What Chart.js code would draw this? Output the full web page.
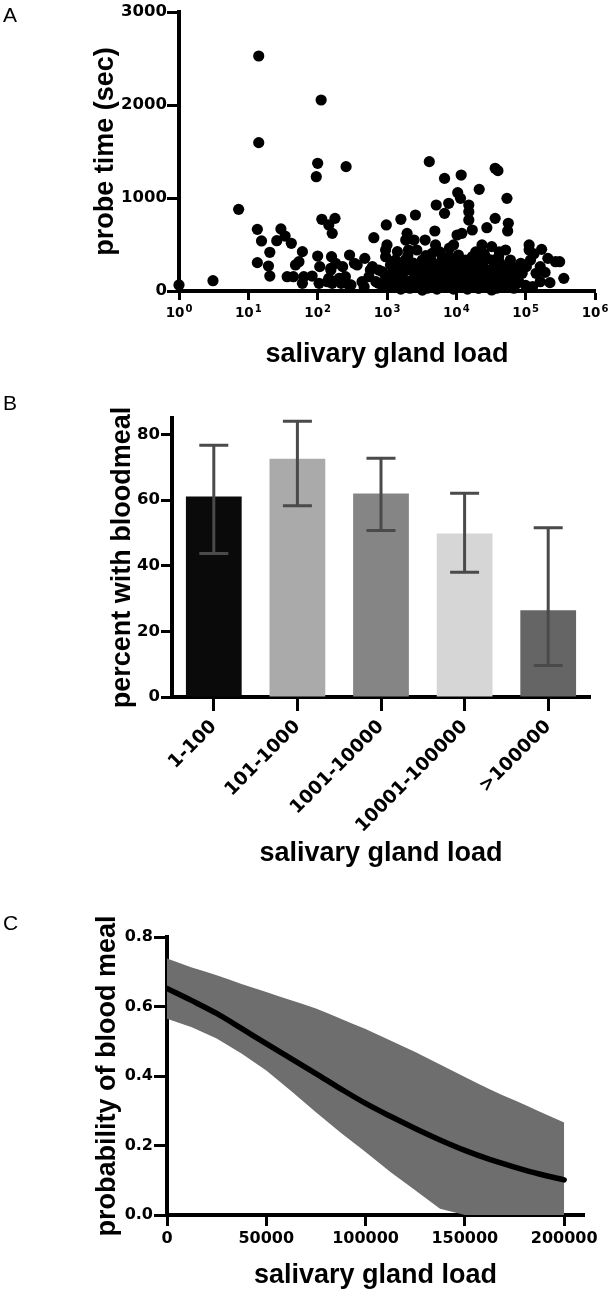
<!DOCTYPE html>
<html>
<head>
<meta charset="utf-8">
<script src="https://cdn.jsdelivr.net/npm/chart.js@4.4.1/dist/chart.umd.min.js"></script>
<style>
  html, body { margin: 0; padding: 0; background: #fff; }
  #page { position: relative; width: 613px; height: 1292px; overflow: hidden; }
  canvas { position: absolute; left: 0; }
  .panel { position: absolute; left: 3px; font: 21px "Liberation Sans", Arial, sans-serif; line-height: 21px; color: #000; }
</style>
</head>
<body>
<div id="page">
  <canvas id="chartA" width="613" height="380" style="top:0px"></canvas>
  <canvas id="chartB" width="613" height="490" style="top:380px"></canvas>
  <canvas id="chartC" width="613" height="392" style="top:900px"></canvas>
  <div class="panel" style="top:4px">A</div>
  <div class="panel" style="top:392px">B</div>
  <div class="panel" style="top:912px">C</div>
</div>
<script>
// Panel A: salivary gland load (log10 of load) vs probe time (sec)
const loadExp = [
  0.00, 0.49, 0.86, 1.15, 1.15, 1.13, 1.19, 1.31, 1.13, 1.29,
  1.31, 1.41, 1.47, 1.53, 1.62, 1.78, 1.73, 1.68, 1.56, 1.65,
  1.80, 1.78, 1.92, 2.00, 2.03, 1.98, 2.00, 2.05, 2.06, 2.16,
  2.21, 2.20, 2.19, 2.02, 2.14, 2.21, 2.25, 2.41, 2.46, 2.68,
  2.57, 2.79, 2.88, 2.36, 2.26, 2.19, 2.40, 2.31, 2.16, 2.45,
  2.64, 2.74, 2.88, 2.81, 2.99, 3.20, 3.41, 3.00, 2.98, 2.98,
  3.12, 3.15, 3.27, 3.39, 3.31, 3.43, 3.55, 3.70, 3.29, 3.69,
  3.61, 3.83, 4.07, 4.56, 4.60, 4.33, 4.02, 4.06, 4.73, 3.71,
  3.89, 3.83, 4.18, 4.18, 4.56, 4.18, 4.44, 4.75, 4.74, 4.08,
  4.23, 4.01, 3.96, 4.37, 4.51, 4.71, 3.00, 3.07, 3.22, 3.29,
  3.41, 3.51, 3.65, 3.58, 3.70, 3.79, 3.89, 4.03, 4.13, 4.23,
  4.32, 4.42, 4.51, 4.61, 4.78, 3.46, 3.55, 3.51, 3.36, 3.65,
  3.75, 3.84, 3.94, 4.01, 4.08, 4.18, 4.27, 4.37, 4.47, 4.56,
  4.66, 4.73, 4.80, 3.70, 3.82, 3.94, 4.13, 4.32, 4.51, 3.22,
  3.10, 5.05, 5.05, 5.23, 5.07, 5.01, 4.95, 5.15, 5.21, 5.32,
  5.43, 5.49, 5.55, 5.21, 5.10, 4.87, 4.81, 4.93, 2.53, 2.76,
  2.93, 2.98, 2.84, 2.67, 2.48, 2.34, 3.05, 3.18, 3.25, 3.33,
  3.40, 3.48, 3.60, 3.62, 3.68, 3.78, 3.86, 3.90, 3.98, 4.05,
  4.10, 4.15, 4.20, 4.25, 4.30, 4.35, 4.40, 4.45, 4.50, 4.55,
  4.60, 4.64, 4.70, 4.75, 4.85, 4.90, 3.56, 3.76, 3.90, 4.05,
  4.28, 4.62, 4.40, 3.30, 3.10, 2.95, 5.00, 5.12, 5.28, 5.35,
  3.02, 3.08, 3.14, 3.20, 3.26, 3.34, 3.38, 3.44, 3.50, 3.53,
  3.58, 3.63, 3.67, 3.72, 3.80, 3.85, 3.92, 3.96, 4.00, 4.04,
  4.11, 4.16, 4.22, 4.26, 4.33, 4.38, 4.43, 4.48, 4.53, 4.58,
  4.63, 4.68, 4.72, 4.83, 4.88
];
const probeTime = [
  65, 111, 878, 2527, 1595, 663, 538, 416, 305, 269,
  161, 541, 667, 591, 513, 423, 315, 280, 154, 154,
  154, 82, 161, 376, 262, 1229, 1373, 2054, 771, 710,
  620, 369, 244, 82, 100, 82, 781, 1337, 387, 351,
  280, 262, 226, 262, 297, 226, 154, 136, 136, 65,
  100, 154, 82, 573, 710, 771, 817, 495, 441, 369,
  333, 423, 548, 548, 441, 441, 548, 495, 620, 645,
  1391, 1211, 1247, 1319, 1294, 1093, 1057, 996, 996, 925,
  943, 835, 925, 853, 781, 763, 681, 728, 645, 620,
  656, 602, 495, 495, 477, 441, 100, 190, 154, 226,
  262, 333, 405, 262, 280, 333, 369, 387, 333, 369,
  333, 369, 333, 369, 333, 154, 100, 10, 65, 154,
  208, 154, 226, 136, 190, 118, 190, 100, 172, 100,
  154, 82, 190, 82, 47, 65, 47, 29, 11, 65,
  47, 495, 441, 448, 333, 262, 190, 190, 262, 351,
  315, 315, 136, 100, 47, 82, 172, 298, 298, 226,
  208, 154, 100, 47, 65, 82, 280, 250, 120, 30,
  180, 230, 200, 60, 130, 110, 280, 100, 300, 250,
  90, 280, 220, 60, 260, 160, 240, 50, 230, 290,
  60, 240, 200, 120, 250, 100, 380, 420, 460, 300,
  420, 420, 400, 380, 130, 40, 60, 400, 200, 90,
  60, 310, 210, 20, 330, 110, 300, 80, 170, 280,
  30, 330, 230, 20, 250, 40, 180, 20, 330, 40,
  150, 20, 310, 130, 80, 300, 130, 40, 180, 30,
  300, 60, 260, 30, 190
];
const logTicks = [1, 10, 100, 1000, 10000, 100000, 1000000];
const timeTicks = [0, 1000, 2000, 3000];

// Panel B: percent with bloodmeal per load bin, with error bar limits
const binLabels = ['1-100', '101-1000', '1001-10000', '10001-100000', '>100000'];
const bloodPct = [61.1, 72.6, 62.0, 49.8, 26.4];
const bloodUpper = [76.7, 84.0, 72.7, 62.1, 51.6];
const bloodLower = [43.7, 58.3, 50.7, 38.0, 9.6];
const binColors = ['#0a0a0a', '#aaaaaa', '#858585', '#d6d6d6', '#656565'];
const pctTicks = [0, 20, 40, 60, 80];

// Panel C: fitted probability of blood meal with confidence band
const loadC = [0, 12500, 25000, 37500, 50000, 62500, 75000, 87500, 100000,
  112500, 125000, 137500, 150000, 162500, 175000, 187500, 200000];
const probFit = [0.652, 0.617, 0.580, 0.537, 0.493, 0.450, 0.407, 0.363, 0.321,
  0.284, 0.249, 0.216, 0.186, 0.160, 0.138, 0.118, 0.101];
const probUpper = [0.738, 0.712, 0.690, 0.665, 0.642, 0.618, 0.594, 0.565, 0.535,
  0.502, 0.469, 0.433, 0.397, 0.362, 0.330, 0.298, 0.266];
const probLower = [0.565, 0.540, 0.508, 0.465, 0.416, 0.357, 0.296, 0.237, 0.181,
  0.124, 0.071, 0.018, 0, 0, 0, 0, 0];
const probTicks = [0, 0.2, 0.4, 0.6, 0.8];
const loadTicks = [0, 50000, 100000, 150000, 200000];

Chart.defaults.font.family = '"Liberation Sans", Arial, Helvetica, sans-serif';
Chart.defaults.color = '#000';

const TICK_FAMILY = '"DejaVu Sans", sans-serif';
const titleFont = { size: 27, weight: 'bold', lineHeight: 1.2 };

function axisLook(tickLen) {
  return {
    border: { display: true, color: '#000', width: 4 },
    grid: { display: true, drawOnChartArea: false, drawTicks: true,
            tickLength: tickLen, tickWidth: 3, tickColor: '#000', offset: false }
  };
}

// 10^n labels with a raised exponent, drawn under the log axis ticks
const expLabels = {
  id: 'expLabels',
  afterDraw(chart) {
    const ctx = chart.ctx, xs = chart.scales.x;
    ctx.save();
    ctx.fillStyle = '#000';
    ctx.textBaseline = 'alphabetic';
    ctx.textAlign = 'left';
    logTicks.forEach(v => {
      const n = String(Math.round(Math.log10(v)));
      const px = xs.getPixelForValue(v);
      ctx.font = 'bold 13.5px ' + TICK_FAMILY;
      const w1 = ctx.measureText('10').width;
      ctx.font = 'bold 10px ' + TICK_FAMILY;
      const w2 = ctx.measureText(n).width;
      const left = px - (w1 + w2 + 1) / 2;
      ctx.font = 'bold 13.5px ' + TICK_FAMILY;
      ctx.fillText('10', left, xs.top + 26);
      ctx.font = 'bold 10px ' + TICK_FAMILY;
      ctx.fillText(n, left + w1 + 1, xs.top + 21);
    });
    ctx.restore();
  }
};

// Chart A
new Chart(document.getElementById('chartA'), {
  type: 'scatter',
  data: {
    datasets: [{
      data: loadExp.map((e, i) => ({ x: Math.pow(10, e), y: probeTime[i] })),
      backgroundColor: '#000',
      borderWidth: 0,
      pointRadius: 5.6,
      clip: false
    }]
  },
  options: {
    responsive: false,
    animation: false,
    layout: { padding: { top: 12, right: 18, bottom: 0, left: 0 } },
    plugins: { legend: { display: false }, tooltip: { enabled: false } },
    scales: {
      x: {
        type: 'logarithmic', min: 1, max: 1000000,
        ...axisLook(9),
        afterBuildTicks: s => { s.ticks = logTicks.map(v => ({ value: v })); },
        afterFit: s => { s.height = 89; },
        ticks: { display: false },
        title: { display: true, text: 'salivary gland load', font: titleFont, padding: { top: 0, bottom: 9 } }
      },
      y: {
        min: 0, max: 3000,
        ...axisLook(12),
        afterBuildTicks: s => { s.ticks = timeTicks.map(v => ({ value: v })); },
        afterFit: s => { s.width = 179; },
        ticks: { font: { family: TICK_FAMILY, size: 16.5, weight: 'bold' }, padding: 0, callback: v => String(v) },
        title: { display: true, text: 'probe time (sec)', font: titleFont, padding: { top: 89, bottom: 0 } }
      }
    }
  },
  plugins: [expLabels]
});

// error bars for panel B
const errorBars = {
  id: 'errorBars',
  afterDatasetsDraw(chart) {
    const ctx = chart.ctx;
    const xs = chart.scales.x, ys = chart.scales.y;
    ctx.save();
    ctx.strokeStyle = '#4a4a4a';
    ctx.lineWidth = 3;
    binLabels.forEach((lab, i) => {
      const cx = xs.getPixelForValue(i);
      const top = ys.getPixelForValue(bloodUpper[i]);
      const bot = ys.getPixelForValue(bloodLower[i]);
      ctx.beginPath();
      ctx.moveTo(cx, top); ctx.lineTo(cx, bot);
      ctx.moveTo(cx - 14.5, top); ctx.lineTo(cx + 14.5, top);
      ctx.moveTo(cx - 14.5, bot); ctx.lineTo(cx + 14.5, bot);
      ctx.stroke();
    });
    ctx.restore();
  }
};

// Chart B
new Chart(document.getElementById('chartB'), {
  type: 'bar',
  data: {
    labels: binLabels,
    datasets: [{
      data: bloodPct,
      backgroundColor: binColors,
      borderWidth: 0,
      barPercentage: 0.667,
      categoryPercentage: 1
    }]
  },
  options: {
    responsive: false,
    animation: false,
    layout: { padding: { top: 38, right: 23, bottom: 0, left: 0 } },
    plugins: { legend: { display: false }, tooltip: { enabled: false } },
    scales: {
      x: {
        ...axisLook(14),
        afterFit: s => { s.height = 173; },
        ticks: { font: { family: TICK_FAMILY, size: 18.5, weight: 'bold' }, padding: 5,
                 autoSkip: false, minRotation: 45, maxRotation: 45 },
        title: { display: true, text: 'salivary gland load', font: titleFont, padding: { top: 0, bottom: 0 } }
      },
      y: {
        min: 0, max: 85,
        ...axisLook(11),
        afterBuildTicks: s => { s.ticks = pctTicks.map(v => ({ value: v })); },
        afterFit: s => { s.width = 172; },
        ticks: { font: { family: TICK_FAMILY, size: 16.5, weight: 'bold' }, padding: 1 },
        title: { display: true, text: 'percent with bloodmeal', font: titleFont, padding: { top: 106, bottom: 0 } }
      }
    }
  },
  plugins: [errorBars]
});

// Chart C
const toXY = arr => arr.map((v, i) => ({ x: loadC[i], y: v }));
new Chart(document.getElementById('chartC'), {
  type: 'line',
  data: {
    datasets: [
      { data: toXY(probFit), borderColor: '#000', borderWidth: 5.5, pointRadius: 0,
        borderCapStyle: 'round', fill: false, cubicInterpolationMode: 'monotone', order: 0 },
      { data: toXY(probUpper), borderWidth: 0, pointRadius: 0, backgroundColor: '#6e6e6e',
        fill: '+1', cubicInterpolationMode: 'monotone', order: 1 },
      { data: toXY(probLower), borderWidth: 0, pointRadius: 0, fill: false,
        tension: 0, order: 2 }
    ]
  },
  options: {
    responsive: false,
    animation: false,
    layout: { padding: { top: 37, right: 29, bottom: 0, left: 0 } },
    plugins: { legend: { display: false }, tooltip: { enabled: false } },
    scales: {
      x: {
        type: 'linear', min: 0, max: 210000,
        ...axisLook(11),
        afterBuildTicks: s => { s.ticks = loadTicks.map(v => ({ value: v })); },
        afterFit: s => { s.height = 77; },
        ticks: { font: { family: TICK_FAMILY, size: 16, weight: 'bold' }, padding: 3,
                 maxRotation: 0, callback: v => String(v) },
        title: { display: true, text: 'salivary gland load', font: titleFont, padding: { top: 0, bottom: 0 } }
      },
      y: {
        min: 0, max: 0.8,
        ...axisLook(13),
        afterBuildTicks: s => { s.ticks = probTicks.map(v => ({ value: v })); },
        afterFit: s => { s.width = 167; },
        ticks: { font: { family: TICK_FAMILY, size: 16, weight: 'bold' }, padding: 1, callback: v => v.toFixed(1) },
        title: { display: true, text: 'probability of blood meal', font: titleFont, padding: { top: 91, bottom: 0 } }
      }
    }
  }
});
</script>
</body>
</html>
